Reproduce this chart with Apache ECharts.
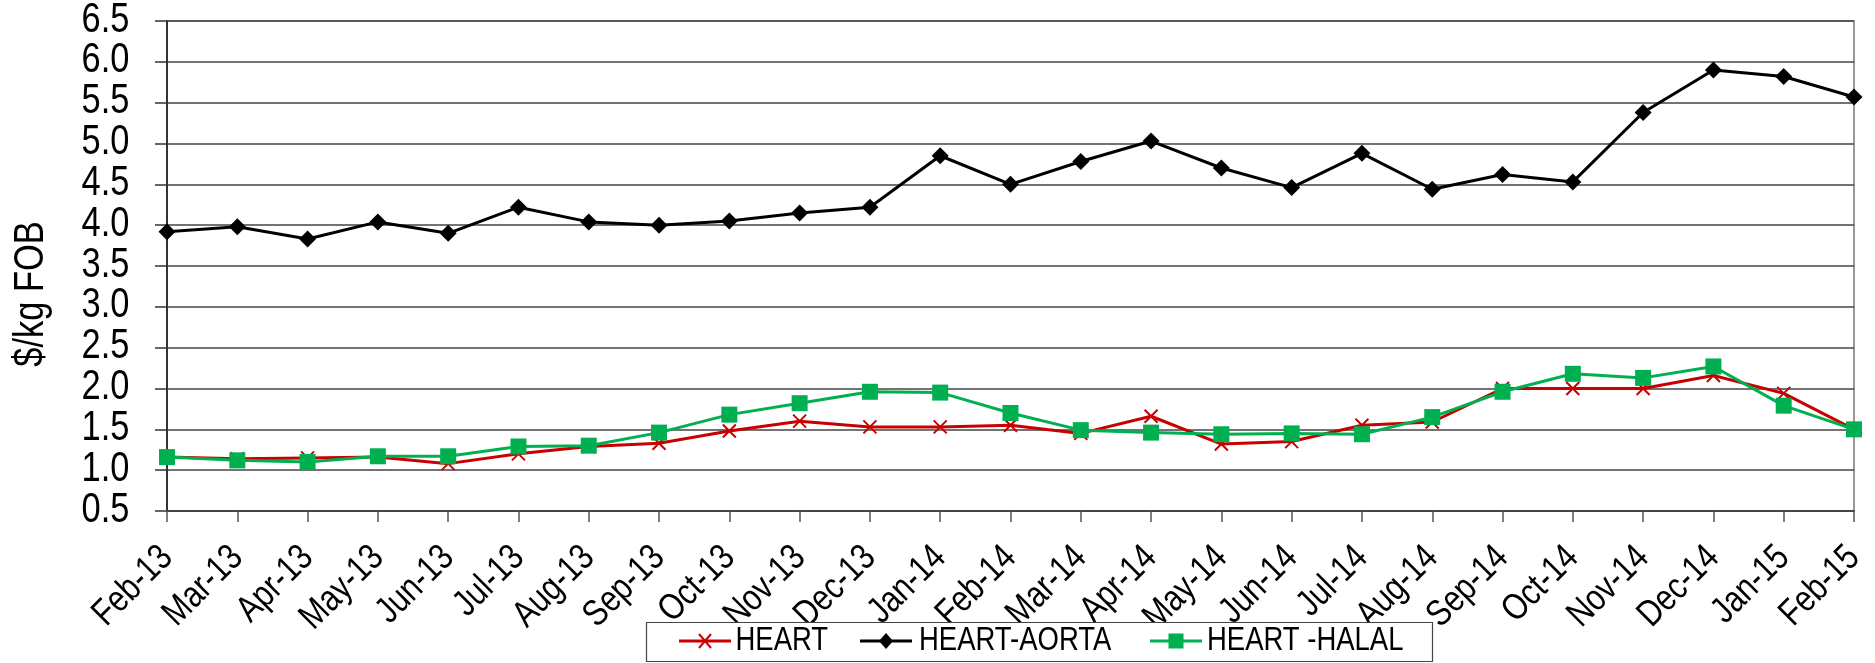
<!DOCTYPE html>
<html>
<head>
<meta charset="utf-8">
<script src="https://cdn.jsdelivr.net/npm/echarts@6/dist/echarts.min.js"></script>
<style>
html,body{margin:0;padding:0;background:#fff;}
#chart{width:1875px;height:663px;}
</style>
</head>
<body>
<div id="chart"></div>
<script>
const categories = ['Feb-13','Mar-13','Apr-13','May-13','Jun-13','Jul-13','Aug-13','Sep-13','Oct-13','Nov-13','Dec-13','Jan-14','Feb-14','Mar-14','Apr-14','May-14','Jun-14','Jul-14','Aug-14','Sep-14','Oct-14','Nov-14','Dec-14','Jan-15','Feb-15'];
const heart = [1.16,1.14,1.15,1.16,1.08,1.20,1.29,1.33,1.48,1.60,1.53,1.53,1.55,1.45,1.66,1.32,1.35,1.55,1.59,2.00,2.00,2.00,2.16,1.94,1.50];
const heartAorta = [3.92,3.98,3.83,4.04,3.90,4.22,4.04,4.00,4.05,4.15,4.22,4.85,4.50,4.78,5.03,4.70,4.46,4.88,4.44,4.62,4.53,5.38,5.90,5.82,5.57];
const heartHalal = [1.16,1.12,1.10,1.17,1.17,1.29,1.30,1.46,1.68,1.82,1.96,1.95,1.70,1.49,1.46,1.44,1.45,1.44,1.65,1.96,2.18,2.13,2.27,1.79,1.50];
const yTicks = [0.5,1.0,1.5,2.0,2.5,3.0,3.5,4.0,4.5,5.0,5.5,6.0,6.5];
const seriesNames = ['HEART','HEART-AORTA','HEART -HALAL'];
const yAxisTitle = '$/kg FOB';

const FONT = "'Liberation Sans',Arial,sans-serif";
const NARROW = 0.82;
const RED = '#C80000', BLACK = '#000000', GREEN = '#00B050';
const chart = echarts.init(document.getElementById('chart'), null, {renderer:'canvas'});
const xPath = 'path://M0,0L10,10M10,0L0,10';
chart.setOption({
  animation:false,
  backgroundColor:'#fff',
  grid:{left:167,right:21,top:21,bottom:152,show:true,borderColor:'#999',borderWidth:2,backgroundColor:'transparent'},
  legend:{show:false, data:seriesNames},
  xAxis:{
    type:'category', data:categories, boundaryGap:false,
    axisLine:{lineStyle:{color:'#444',width:2}},
    axisTick:{show:true,interval:0,length:11,lineStyle:{color:'#555',width:1.5}},
    axisLabel:{show:false},
    splitLine:{show:false}
  },
  yAxis:{
    type:'value', min:yTicks[0], max:yTicks[yTicks.length-1], interval:0.5,
    axisLine:{show:true,lineStyle:{color:'#333',width:2}},
    axisTick:{show:true,length:12,lineStyle:{color:'#333',width:1.5}},
    axisLabel:{show:false},
    splitLine:{show:true,lineStyle:{color:'#444',width:1.5}}
  },
  series:[
    {name:seriesNames[0],type:'line',data:heart,symbol:xPath,symbolSize:13,
     lineStyle:{color:RED,width:3},
     itemStyle:{color:RED,borderColor:RED,borderWidth:2}},
    {name:seriesNames[1],type:'line',data:heartAorta,symbol:'diamond',symbolSize:17,
     lineStyle:{color:BLACK,width:3},
     itemStyle:{color:BLACK,borderWidth:0}},
    {name:seriesNames[2],type:'line',data:heartHalal,symbol:'rect',symbolSize:16,
     lineStyle:{color:GREEN,width:3},
     itemStyle:{color:GREEN,borderWidth:0}}
  ]
});

// Axis labels, title and legend as narrow (Arial Narrow-like) text placed with the chart's own scales
const g = [];
yTicks.forEach(v=>{
  const py = chart.convertToPixel({yAxisIndex:0}, v);
  g.push({type:'text', x:129.5, y:py-1, scaleX:NARROW, silent:true,
    style:{text:v.toFixed(1), fontFamily:FONT, fontSize:42, fill:'#000', textAlign:'right', textVerticalAlign:'middle'}});
});
const axisY = chart.convertToPixel({yAxisIndex:0}, yTicks[0]);
categories.forEach((c,i)=>{
  const px = chart.convertToPixel({xAxisIndex:0}, i);
  g.push({type:'text', x:px, y:axisY+41, rotation:Math.PI/4, scaleX:NARROW, silent:true,
    style:{text:c, fontFamily:FONT, fontSize:37, fill:'#000', textAlign:'right', textVerticalAlign:'middle'}});
});
g.push({type:'text', x:31, y:294, rotation:Math.PI/2, scaleX:NARROW, silent:true,
  style:{text:yAxisTitle, fontFamily:FONT, fontSize:42, fill:'#000', textAlign:'center', textVerticalAlign:'middle'}});

// legend
const LY = 641;
g.push({type:'rect', silent:true, shape:{x:646.5, y:622.5, width:786, height:39},
  style:{fill:'#fff', stroke:'#444', lineWidth:1.2}});
const items = [
  {name:seriesNames[0], color:RED, x0:679, textX:735.5, kind:'x'},
  {name:seriesNames[1], color:BLACK, x0:860, textX:919, kind:'diamond'},
  {name:seriesNames[2], color:GREEN, x0:1150, textX:1207, kind:'rect'}
];
items.forEach(it=>{
  const cx = it.x0 + 26;
  g.push({type:'line', silent:true, shape:{x1:it.x0, y1:LY, x2:it.x0+52, y2:LY}, style:{stroke:it.color, lineWidth:3}});
  if(it.kind==='x'){
    g.push({type:'line', silent:true, shape:{x1:cx-6, y1:LY-7, x2:cx+6, y2:LY+7}, style:{stroke:it.color, lineWidth:2}});
    g.push({type:'line', silent:true, shape:{x1:cx-6, y1:LY+7, x2:cx+6, y2:LY-7}, style:{stroke:it.color, lineWidth:2}});
  } else if(it.kind==='diamond'){
    g.push({type:'polygon', silent:true, shape:{points:[[cx,LY-8],[cx+7,LY],[cx,LY+8],[cx-7,LY]]}, style:{fill:it.color}});
  } else {
    g.push({type:'rect', silent:true, shape:{x:cx-7.5, y:LY-7.5, width:15, height:15}, style:{fill:it.color}});
  }
  g.push({type:'text', x:it.textX, y:LY, scaleX:NARROW, silent:true,
    style:{text:it.name, fontFamily:FONT, fontSize:33.5, fill:'#000', textAlign:'left', textVerticalAlign:'middle'}});
});
chart.setOption({graphic:g});
</script>
</body>
</html>
